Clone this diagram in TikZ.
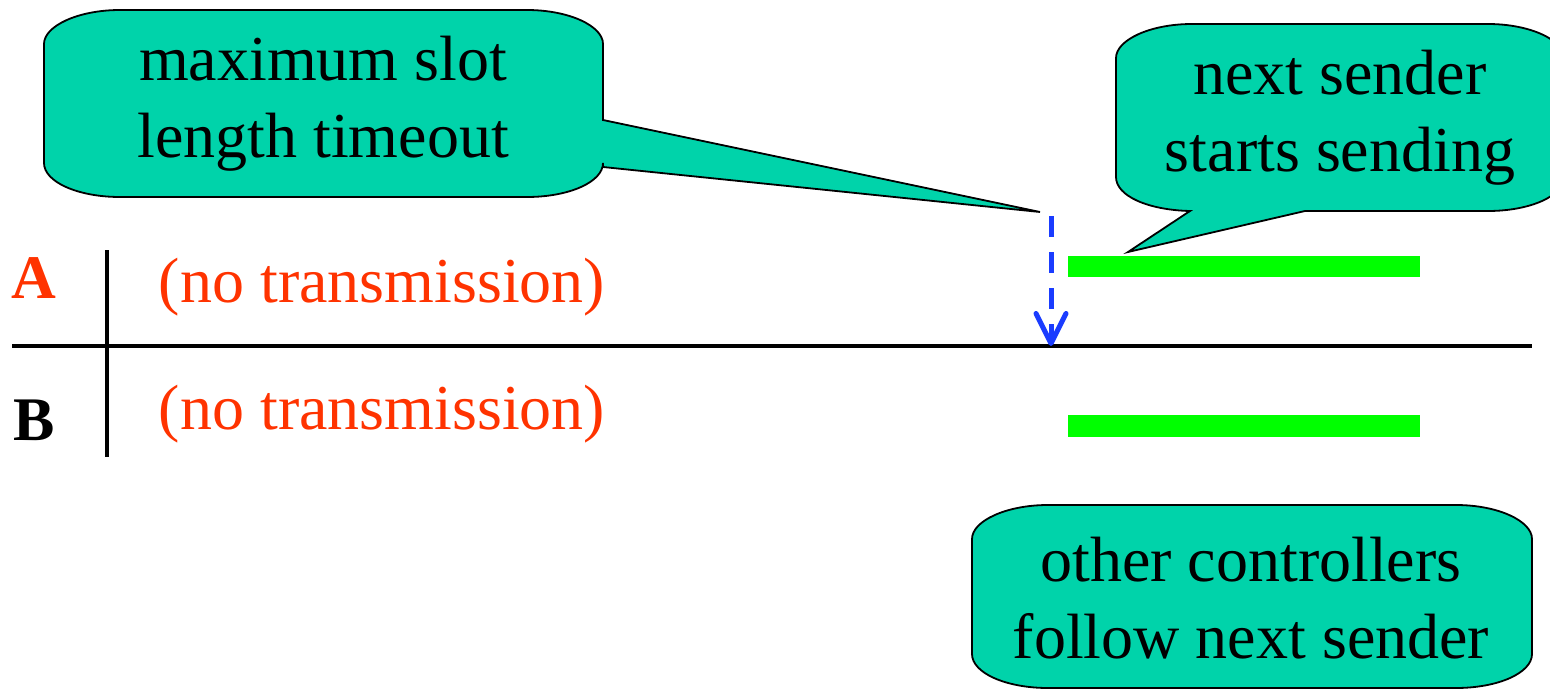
\documentclass[tikz,border=0pt]{standalone}
\usepackage{fontspec}
\setmainfont{Liberation Serif}
\usetikzlibrary{arrows.meta}
\definecolor{callfill}{RGB}{0,211,170}
\definecolor{txtred}{RGB}{255,51,0}
\definecolor{arrblue}{RGB}{26,60,255}
\definecolor{bargreen}{RGB}{0,255,0}
\tikzset{
  callbox/.style={draw=black, line width=1.8pt, fill=callfill, line join=miter},
  calltext/.style={align=center, font=\fontsize{64}{77}\selectfont, inner sep=0pt},
  rowtext/.style={text=txtred, font=\fontsize{64}{74}\selectfont, inner sep=0pt, anchor=base},
  rowlabel/.style={font=\fontsize{62}{74}\selectfont\bfseries, inner sep=0pt, anchor=base},
  greenbar/.style={fill=bargreen, draw=none},
  axisline/.style={draw=black, line width=4pt},
  timeoutarrow/.style={draw=arrblue, line width=5pt, dash pattern=on 21pt off 15pt,
     -{Straight Barb[length=30pt,width=30pt,line width=5pt,round]}}
}
\begin{document}
\begin{tikzpicture}[x=1pt,y=-1pt]
\useasboundingbox (0,0) rectangle (1550,690);
% axes
\draw[axisline] (12,346) -- (1532,346);
\draw[draw=black, line width=3.5pt] (107,250) -- (107,457);
% row labels
\node[rowlabel, text=txtred] (labA) at (34,298) {A};
\node[rowlabel, text=black] (labB) at (34,440) {B};
\node[rowtext] (noA) at (382,302) {(no transmission)};
\node[rowtext] (noB) at (382,429) {(no transmission)};
% green bars
\fill[greenbar] (1068,256) rectangle (1420,277);
\fill[greenbar] (1068,415) rectangle (1420,437);
% callout 1
\path[callbox] (120,10) -- (527,10)
  .. controls (569,10) and (603,26) .. (603,44)
  -- (603,120) -- (1040,212) -- (603,167) -- (603,163)
  .. controls (603,182) and (569,197) .. (527,197)
  -- (120,197)
  .. controls (78,197) and (44,182) .. (44,163)
  -- (44,44)
  .. controls (44,26) and (78,10) .. (120,10) -- cycle;
\node[calltext] (c1) at (323,104) {maximum slot\\length timeout};
% callout 2
\path[callbox] (1192,24) -- (1488,24)
  .. controls (1530,24) and (1564,40) .. (1564,58)
  -- (1564,177)
  .. controls (1564,196) and (1530,211) .. (1488,211)
  -- (1305,211) -- (1128,252) -- (1190,211)
  .. controls (1148,210) and (1116,196) .. (1116,177)
  -- (1116,58)
  .. controls (1116,40) and (1150,24) .. (1192,24) -- cycle;
\node[calltext] (c2) at (1340,118) {next sender\\starts sending};
% callout 3
\path[callbox] (1048,505) -- (1456,505)
  .. controls (1498,505) and (1532,521) .. (1532,539)
  -- (1532,654)
  .. controls (1532,673) and (1498,688) .. (1456,688)
  -- (1048,688)
  .. controls (1006,688) and (972,673) .. (972,654)
  -- (972,539)
  .. controls (972,521) and (1006,505) .. (1048,505) -- cycle;
\node[calltext] (c3) at (1251,598) {other controllers\\follow next sender};
% timeout arrow
\coordinate (arrS) at (1051,216);
\coordinate (arrE) at (1051,346);
\draw[timeoutarrow] (arrS) -- (arrE);
\end{tikzpicture}
\end{document}
